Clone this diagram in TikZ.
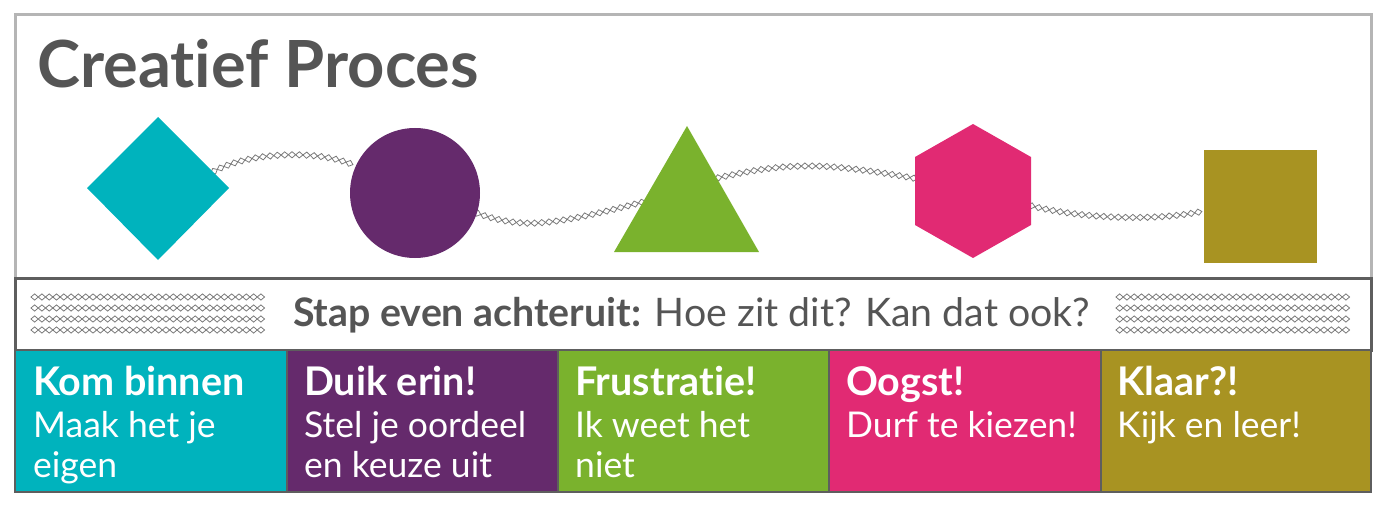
\documentclass[tikz,border=0pt]{standalone}
\usepackage{fontspec}
\setmainfont{Lato}[Ligatures={NoCommon,NoDiscretionary,NoRare}]
\usetikzlibrary{decorations.markings}
\definecolor{cTeal}{HTML}{00B3BD}
\definecolor{cPurple}{HTML}{652A6C}
\definecolor{cGreen}{HTML}{7AB22D}
\definecolor{cPink}{HTML}{E12A73}
\definecolor{cOlive}{HTML}{A89322}
\definecolor{cText}{HTML}{555555}
\definecolor{cFrame}{HTML}{B5B5B5}
\definecolor{cBorder}{HTML}{5E5E5E}
\definecolor{cRope}{HTML}{7A7A7A}
\tikzset{
  rope/.style={decorate, decoration={markings,
    mark=between positions 3.6pt and -3.6pt step 7.3pt with {
      \draw[cRope, line width=0.8pt] (-3.65pt,0pt) -- (0pt,3.1pt) -- (3.65pt,0pt) -- (0pt,-3.1pt) -- cycle;}}},
  boxtitle/.style={anchor=base west, inner sep=0pt, text=white,
    font=\fontsize{39.5}{44}\selectfont\bfseries},
  boxsub/.style={anchor=base west, inner sep=0pt, text=white,
    font=\fontsize{35.5}{41}\selectfont},
  colbox/.style={draw=cBorder, line width=2.5pt},
}
\begin{document}
\begin{tikzpicture}[x=1pt,y=-1pt]
\useasboundingbox (0,0) rectangle (1384,513);
% top frame
\draw[cFrame, line width=3pt] (15,278) -- (15,15) -- (1371,15) -- (1371,278);
\node[anchor=base west, inner sep=0pt, text=cText,
  font=\fontsize{65}{72}\selectfont\bfseries] (title) at (37,88) {Creatief Proces};
% ropes
\path[rope] (211,173) .. controls (245,152) and (320,148) .. (358,167);
\path[rope] plot[smooth, tension=0.7] coordinates {(474,212) (537,223) (643,202) (717,178) (813,166) (918,179)};
\path[rope] (1028,205) .. controls (1080,219) and (1160,222) .. (1208,210);
% shapes
\fill[cTeal] (158,117) -- (229,188) -- (158,260) -- (87,188) -- cycle;
\fill[cPurple] (415,193) circle[radius=65];
\fill[cGreen] (687,126) -- (759,252) -- (614,252) -- cycle;
\fill[cPink] (973,124) -- (1031,157) -- (1031,225) -- (973,258) -- (915,225) -- (915,157) -- cycle;
\fill[cOlive] (1204,150) rectangle (1317,263);
% middle bar
\draw[cBorder, line width=3pt, fill=white] (15,278) rectangle (1371,350);
\foreach \yy in {297,308,319,330} {
  \path[rope] (31,\yy) -- (271,\yy);
  \path[rope] (1116,\yy) -- (1350,\yy);
}
\node[anchor=base west, inner sep=0pt, text=cText, font=\fontsize{39.3}{46}\selectfont] (step) at (293,326)
  {\textbf{Stap even achteruit:} Hoe zit dit? Kan dat ook?};
% columns
\draw[colbox, fill=cTeal]   (15,350) rectangle (287,492);
\draw[colbox, fill=cPurple] (287,350) rectangle (558,492);
\draw[colbox, fill=cGreen]  (558,350) rectangle (829,492);
\draw[colbox, fill=cPink]   (829,350) rectangle (1101,492);
\draw[colbox, fill=cOlive]  (1101,350) rectangle (1371,492);
% texts
\node[boxtitle] (t1) at (33,395) {Kom binnen};
\node[boxsub] (s1a) at (33,437) {Maak het je};
\node[boxsub] (s1b) at (33,477) {eigen};
\node[boxtitle] (t2) at (304,395) {Duik erin!};
\node[boxsub] (s2a) at (304,437) {Stel je oordeel};
\node[boxsub] (s2b) at (304,477) {en keuze uit};
\node[boxtitle] (t3) at (575,395) {Frustratie!};
\node[boxsub] (s3a) at (575,437) {Ik weet het};
\node[boxsub] (s3b) at (575,477) {niet};
\node[boxtitle] (t4) at (846,395) {Oogst!};
\node[boxsub] (s4a) at (846,437) {Durf te kiezen!};
\node[boxtitle] (t5) at (1117,395) {Klaar?!};
\node[boxsub] (s5a) at (1117,437) {Kijk en leer!};
\end{tikzpicture}
\end{document}
